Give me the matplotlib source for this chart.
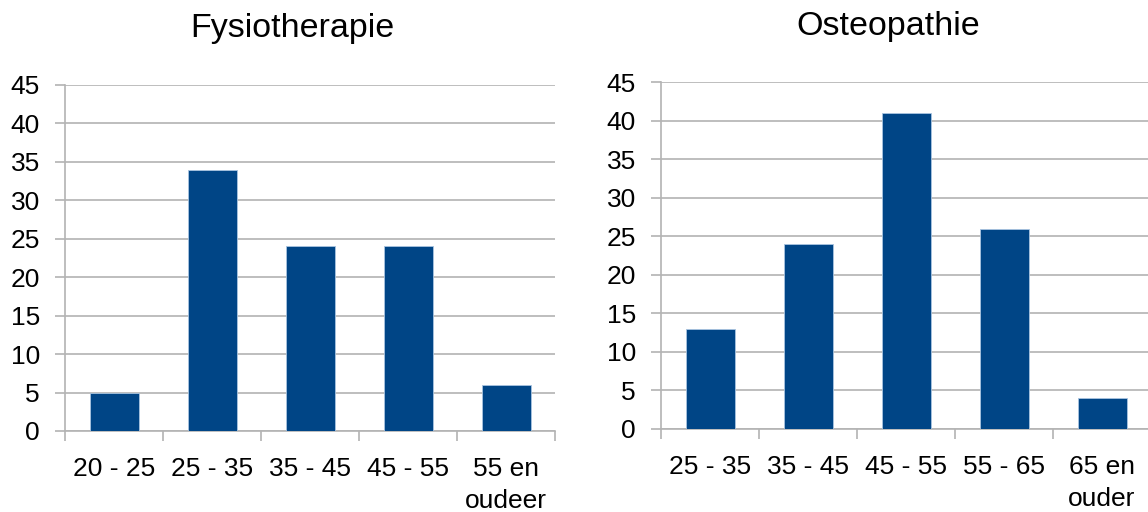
import numpy as np
import matplotlib
matplotlib.use("Agg")
from matplotlib import pyplot as plt

plt.rcParams['font.family'] = ['Liberation Sans', 'DejaVu Sans']

# leeftijdsverdeling per beroepsgroep
fysio_cats = ["20 - 25", "25 - 35", "35 - 45", "45 - 55", "55 en\noudeer"]
fysio_vals = [5, 34, 24, 24, 6]

osteo_cats = ["25 - 35", "35 - 45", "45 - 55", "55 - 65", "65 en\nouder"]
osteo_vals = [13, 24, 41, 26, 4]

blauw = "#004586"
grijs = "#b3b3b3"

fig = plt.figure(figsize=(11.48, 5.12), dpi=100)
ax1 = fig.add_axes([65/1148, 1-431/512, 490/1148, 346/512])
ax2 = fig.add_axes([661/1148, 1-429/512, 490/1148, 347/512])


def staafgrafiek(ax, cats, vals):
    x = np.arange(len(cats))
    ax.bar(x, vals, width=0.5, color=blauw, edgecolor="#a9c4e0", linewidth=0.6, zorder=3)
    ax.set_xlim(-0.5, len(cats) - 0.5)
    ax.set_ylim(0, 45)
    ax.set_yticks(range(0, 50, 5))
    ax.yaxis.grid(True, color=grijs, linewidth=1.2, zorder=0)
    # streepjes op de grenzen, labels in het midden
    ax.set_xticks(np.arange(len(cats) + 1) - 0.5)
    ax.set_xticklabels([])
    ax.set_xticks(x, minor=True)
    ax.set_xticklabels(cats, minor=True, fontsize=19, linespacing=1.4)
    ax.tick_params(axis='x', which='major', length=7, width=1.2, color=grijs, direction='out')
    ax.tick_params(axis='x', which='minor', length=0, pad=19)
    ax.tick_params(axis='y', length=7, width=1.2, color=grijs, labelsize=19, pad=11)
    for s in ['top', 'right']:
        ax.spines[s].set_visible(False)
    for s in ['left', 'bottom']:
        ax.spines[s].set_color(grijs)
        ax.spines[s].set_linewidth(1.2)


staafgrafiek(ax1, fysio_cats, fysio_vals)
staafgrafiek(ax2, osteo_cats, osteo_vals)

fig.text(292/1148, 1-28/512, "Fysiotherapie", fontsize=24.5, ha='center', va='center')
fig.text(888/1148, 1-26/512, "Osteopathie", fontsize=24.5, ha='center', va='center')

plt.savefig("out.png", dpi=100)
